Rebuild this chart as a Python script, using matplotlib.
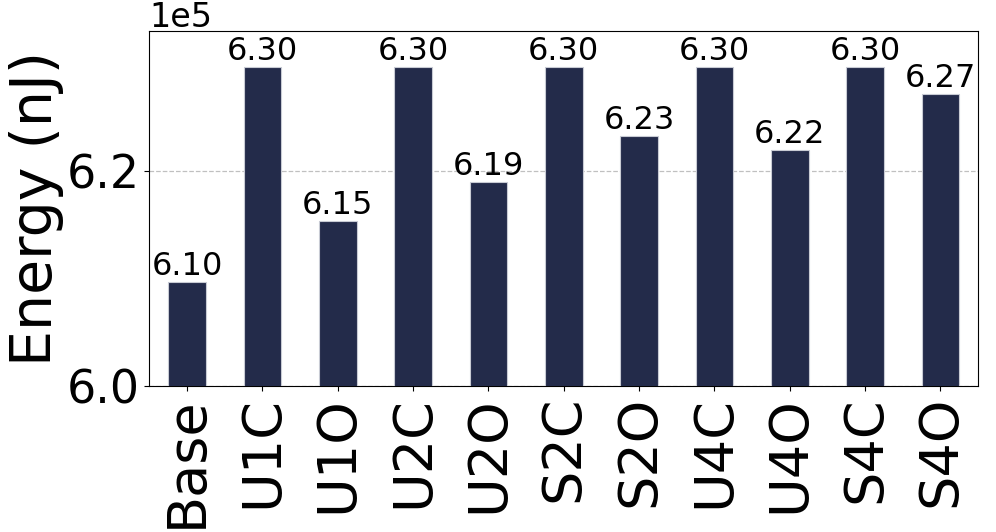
import numpy as np
import matplotlib.pyplot as plt

configs = ['Base', 'U1C', 'U1O', 'U2C', 'U2O', 'S2C', 'S2O', 'U4C', 'U4O', 'S4C', 'S4O']
energy_nj = [609700, 629600, 615300, 629600, 619000, 629600,
             623200, 629600, 621900, 629600, 627100]

fig, ax = plt.subplots(figsize=(9.96, 5.32), dpi=100)
x = np.arange(len(configs))
bars = ax.bar(x, energy_nj, width=0.5, color='#232b4a', edgecolor='#c8cbd4',
              linewidth=0.8, zorder=3)

for b, v in zip(bars, energy_nj):
    ax.text(b.get_x() + b.get_width() / 2, v, f"{v / 1e5:.2f}",
            ha='center', va='bottom', fontsize=23)

ax.set_xlim(-0.5, len(configs) - 0.5)
ax.set_ylim(600000, 633000)
ax.set_yticks([600000, 620000])
ax.ticklabel_format(axis='y', style='sci', scilimits=(5, 5))
ax.yaxis.get_offset_text().set_fontsize(24)
ax.set_xticks(x)
ax.set_xticklabels(configs, rotation=90)
ax.tick_params(axis='x', labelsize=39)
ax.tick_params(axis='y', labelsize=33)
ax.set_ylabel('Energy (nJ)', fontsize=41, labelpad=2)
ax.yaxis.grid(True, linestyle='--', color='#c0c0c0', linewidth=0.9, zorder=0)

fig.subplots_adjust(left=0.15, right=0.982, top=0.942, bottom=0.274)
fig.savefig('out.png')
